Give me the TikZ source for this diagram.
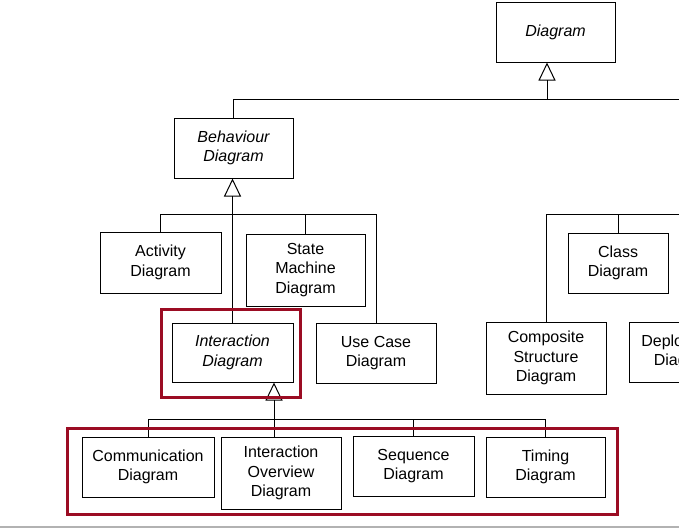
\documentclass[tikz,border=0pt]{standalone}
\usepackage{fontspec}
\setmainfont{Liberation Sans}
\usetikzlibrary{arrows.meta}
\definecolor{umlred}{RGB}{155,12,35}

\begin{document}
\begin{tikzpicture}[x=1pt, y=-1pt,
  box/.style={draw, line width=1pt, align=center, inner sep=0pt, font=\fontsize{16pt}{19.5pt}\selectfont},
  abox/.style={box, font=\fontsize{16pt}{19.5pt}\selectfont\itshape},
  gen/.style={line width=0.9pt, -{Triangle[open, width=17pt, length=18pt, line width=1pt]}},
  link/.style={line width=0.9pt},
  frame/.style={draw=umlred, line width=3pt}]
\clip (0,0) rectangle (679,528);

\node[abox, minimum width=119pt, minimum height=60pt] (diag) at (555.5,32) {Diagram};
\node[abox, minimum width=119pt, minimum height=60pt] (beh) at (233.5,148) {Behaviour\\Diagram};

\node[box, minimum width=121pt, minimum height=61pt] (act) at (160.5,262.5) {Activity\\Diagram};
\node[box, minimum width=119pt, minimum height=72pt] (sm) at (305.5,270) {State\\Machine\\Diagram};
\node[box, minimum width=120pt, minimum height=60pt] (uc) at (376,353) {Use Case\\Diagram};
\node[abox, minimum width=121pt, minimum height=59pt] (inter) at (232.5,352.5) {Interaction\\Diagram};

\node[box, minimum width=132pt, minimum height=60pt] (comm) at (148,467) {Communication\\Diagram};
\node[box, minimum width=120pt, minimum height=72pt] (iov) at (281,473) {Interaction\\Overview\\Diagram};
\node[box, minimum width=121pt, minimum height=60pt] (seq) at (413.5,466) {Sequence\\Diagram};
\node[box, minimum width=119pt, minimum height=60pt] (tim) at (545.5,467) {Timing\\Diagram};

\node[box, minimum width=100pt, minimum height=60pt] (cls) at (618,263) {Class\\Diagram};
\node[box, minimum width=120pt, minimum height=72pt] (comp) at (546,358) {Composite\\Structure\\Diagram};
\node[box, minimum width=110pt, minimum height=60pt] (dep) at (684,352) {Deployment\\Diagram};

\coordinate (tbus) at (547,99);
\coordinate (tend) at (700,99);
\coordinate (bbus) at (233,214);
\coordinate (ibus) at (274,419);
\coordinate (rbus) at (549,214);
\coordinate (rend) at (700,214);

\draw[link] (beh.north) |- (tend);
\draw[gen] (tbus) -- (tbus |- diag.south);

\draw[gen] (inter.north) -- (inter.north |- beh.south);
\draw[link] (act.north) |- (uc.north |- bbus) -- (uc.north);
\draw[link] (sm.north) -- (sm.north |- bbus);

\draw[gen] (ibus |- iov.north) -- (ibus |- inter.south);
\draw[link] (comm.north) |- (tim.north |- ibus) -- (tim.north);
\draw[link] (seq.north) -- (seq.north |- ibus);

\draw[link] (comp.north) |- (rend);
\draw[link] (cls.north) -- (cls.north |- rbus);

\draw[frame] (161,309) rectangle (300,397);
\draw[frame] (67,428) rectangle (617,514);

\draw[black!30, line width=1.2pt] (0,527) -- (679,527);
\end{tikzpicture}
\end{document}
